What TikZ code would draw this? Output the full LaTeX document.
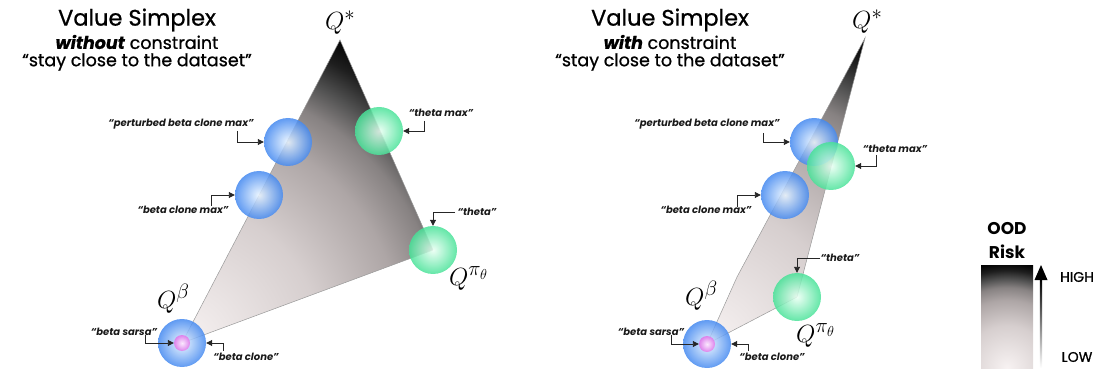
\documentclass[tikz,border=0pt]{standalone}
\usepackage{fontspec}
\setmainfont{Poppins}
\newfontfamily\popmed[FakeBold=0.8]{Poppins}
\usetikzlibrary{arrows.meta}
\pgfdeclareradialshading{oodRisk}{\pgfpoint{0bp}{0bp}}{%
	rgb(0bp)=(0.97,0.95,0.95); rgb(10bp)=(0.84,0.81,0.81);
	rgb(16bp)=(0.68,0.65,0.65); rgb(19bp)=(0.53,0.51,0.51);
	rgb(21bp)=(0.32,0.32,0.32); rgb(23bp)=(0.12,0.12,0.12);
	rgb(25bp)=(0,0,0); rgb(50bp)=(0,0,0)}

\begin{document}
\begin{tikzpicture}[x=1pt,y=-1pt,
	ball/.style={circle,inner sep=0pt,minimum size=48pt,fill opacity=0.85},
	blueball/.style={ball,inner color=simBlueCore,outer color=simBlue},
	greenball/.style={ball,inner color=simGreenCore,outer color=simGreen},
	pinkball/.style={ball,minimum size=16pt,inner color=simPinkCore,outer color=simPink},
	tag/.style={font=\fontsize{10}{12}\selectfont\bfseries\itshape,text=black!90,inner sep=0pt},
	qlab/.style={font=\fontsize{29}{32}\selectfont,anchor=base west,inner sep=0pt},
	pointer/.style={draw=black!85,line width=0.9pt,-{Triangle[length=6pt,width=6pt]}},
	edge/.style={draw=black!40,line width=0.5pt}]
\definecolor{simBlue}{HTML}{4489F0}
\definecolor{simBlueCore}{HTML}{EAF5FF}
\definecolor{simGreen}{HTML}{48E298}
\definecolor{simGreenCore}{HTML}{EAFFF3}
\definecolor{simPink}{HTML}{E274EA}
\definecolor{simPinkCore}{HTML}{FFE8FF}
\def\titlefont{\popmed\fontsize{22.5}{25}\selectfont}
\def\subfont{\popmed\fontsize{17.5}{20}\selectfont}

\useasboundingbox (0,0) rectangle (1103,374);

% ---- left: without constraint
\node[font=\titlefont] (Ltitle) at (137,20) {Value Simplex};
\node[font=\subfont] (Lsub) at (137,42) {\textbf{\textit{without}} constraint};
\node[font=\subfont] (Lquote) at (137,62) {“stay close to the dataset”};

\coordinate (Lstar) at (340,40);
\coordinate (Lbeta) at (182,343);
\coordinate (Lpi) at (433,250);
\begin{scope}
	\clip (Lstar) -- (Lbeta) -- (Lpi) -- cycle;
	\shade[shading=oodRisk] (Lbeta) circle (345);
\end{scope}
\path[edge] (Lstar) -- (Lbeta) -- (Lpi) -- cycle;

\node[qlab] (LQstar) at (325,30) {$Q^*$};
\node[qlab] (LQbeta) at (157,308) {$Q^\beta$};
\node[qlab] (LQpi) at (449,285) {$Q^{\pi_\theta}$};

\node[blueball] (Lpbcm) at (288,142) {};
\node[blueball] (Lbcm) at (259,195) {};
\node[greenball] (Ltmax) at (379,131) {};
\node[greenball] (Ltheta) at (433,250) {};
\node[blueball] (Lbc) at (182,343) {};
\node[pinkball] (Lbs) at (182,343) {};

\node[tag] (LpbcmT) at (181,124) {“perturbed beta clone max”};
\node[tag] (LbcmT) at (183,210) {“beta clone max”};
\node[tag] (LtmaxT) at (441,113) {“theta max”};
\node[tag] (LthetaT) at (477,212) {“theta”};
\node[tag] (LbsT) at (124,332) {“beta sarsa”};
\node[tag] (LbcT) at (246,357) {“beta clone”};

\coordinate (Lk1) at (237,131);
\coordinate (Lk2) at (211,206);
\coordinate (Lk3) at (424,121);
\coordinate (Lk4) at (455,212);
\coordinate (Lk5) at (145,335);
\coordinate (Lk6) at (223,351);
\draw[pointer] (Lk1) |- (Lpbcm.west);
\draw[pointer] (Lk2) |- (Lbcm.west);
\draw[pointer] (Lk3) |- (Ltmax.east);
\draw[pointer] (Lk4) -| (Ltheta.north);
\draw[pointer] (Lk5) |- (Lbs.west);
\draw[pointer] (Lk6) |- (Lbc.east);

% ---- right: with constraint
\node[font=\titlefont] (Rtitle) at (670,20) {Value Simplex};
\node[font=\subfont] (Rsub) at (670,42) {\textbf{\textit{with}} constraint};
\node[font=\subfont] (Rquote) at (670,62) {“stay close to the dataset”};

\coordinate (Rstar) at (865,38);
\coordinate (Rbend) at (737,277);
\coordinate (Rbeta) at (707,344);
\coordinate (Rpi) at (797,297);
\begin{scope}
	\clip (Rstar) -- (Rbend) -- (Rbeta) -- (Rpi) -- cycle;
	\shade[shading=oodRisk] (Rbeta) circle (345);
\end{scope}
\path[edge] (Rstar) -- (Rbend) -- (Rbeta) -- (Rpi) -- cycle;

\node[qlab] (RQstar) at (852,29) {$Q^*$};
\node[qlab] (RQbeta) at (685,305) {$Q^\beta$};
\node[qlab] (RQpi) at (796,342) {$Q^{\pi_\theta}$};

\node[blueball] (Rpbcm) at (814,142) {};
\node[greenball] (Rtmax) at (831,166) {};
\node[blueball] (Rbcm) at (785,195) {};
\node[greenball] (Rtheta) at (797,297) {};
\node[blueball] (Rbc) at (707,344) {};
\node[pinkball] (Rbs) at (707,344) {};

\node[tag] (RpbcmT) at (707,124) {“perturbed beta clone max”};
\node[tag] (RtmaxT) at (895,149) {“theta max”};
\node[tag] (RbcmT) at (706,210) {“beta clone max”};
\node[tag] (RthetaT) at (840,258) {“theta”};
\node[tag] (RbsT) at (651,332) {“beta sarsa”};
\node[tag] (RbcT) at (772,357) {“beta clone”};

\coordinate (Rk1) at (763,133);
\coordinate (Rk2) at (876,155);
\coordinate (Rk3) at (737,207);
\coordinate (Rk4) at (820,258);
\coordinate (Rk5) at (671,335);
\coordinate (Rk6) at (748,351);
\draw[pointer] (Rk1) |- (Rpbcm.west);
\draw[pointer] (Rk2) |- (Rtmax.east);
\draw[pointer] (Rk3) |- (Rbcm.west);
\draw[pointer] (Rk4) -| (Rtheta.north);
\draw[pointer] (Rk5) |- (Rbs.west);
\draw[pointer] (Rk6) |- (Rbc.east);

% ---- legend
\node[font=\fontsize{17}{20}\selectfont\bfseries] (oodT) at (1007,229) {OOD};
\node[font=\fontsize{17}{20}\selectfont\bfseries] (riskT) at (1007,252) {Risk};
\begin{scope}
	\clip (981,265) rectangle (1033,368);
	\shade[shading=oodRisk] (1007,368) circle (106);
\end{scope}
\shade[bottom color=white,top color=black] (1039.8,368) rectangle (1042.2,279);
\fill (1041,265) -- (1047.5,280) -- (1034.5,280) -- cycle;
\node[font=\popmed\fontsize{14}{16}\selectfont] (highT) at (1077,277) {HIGH};
\node[font=\popmed\fontsize{14}{16}\selectfont] (lowT) at (1077,357) {LOW};
\end{tikzpicture}
\end{document}
